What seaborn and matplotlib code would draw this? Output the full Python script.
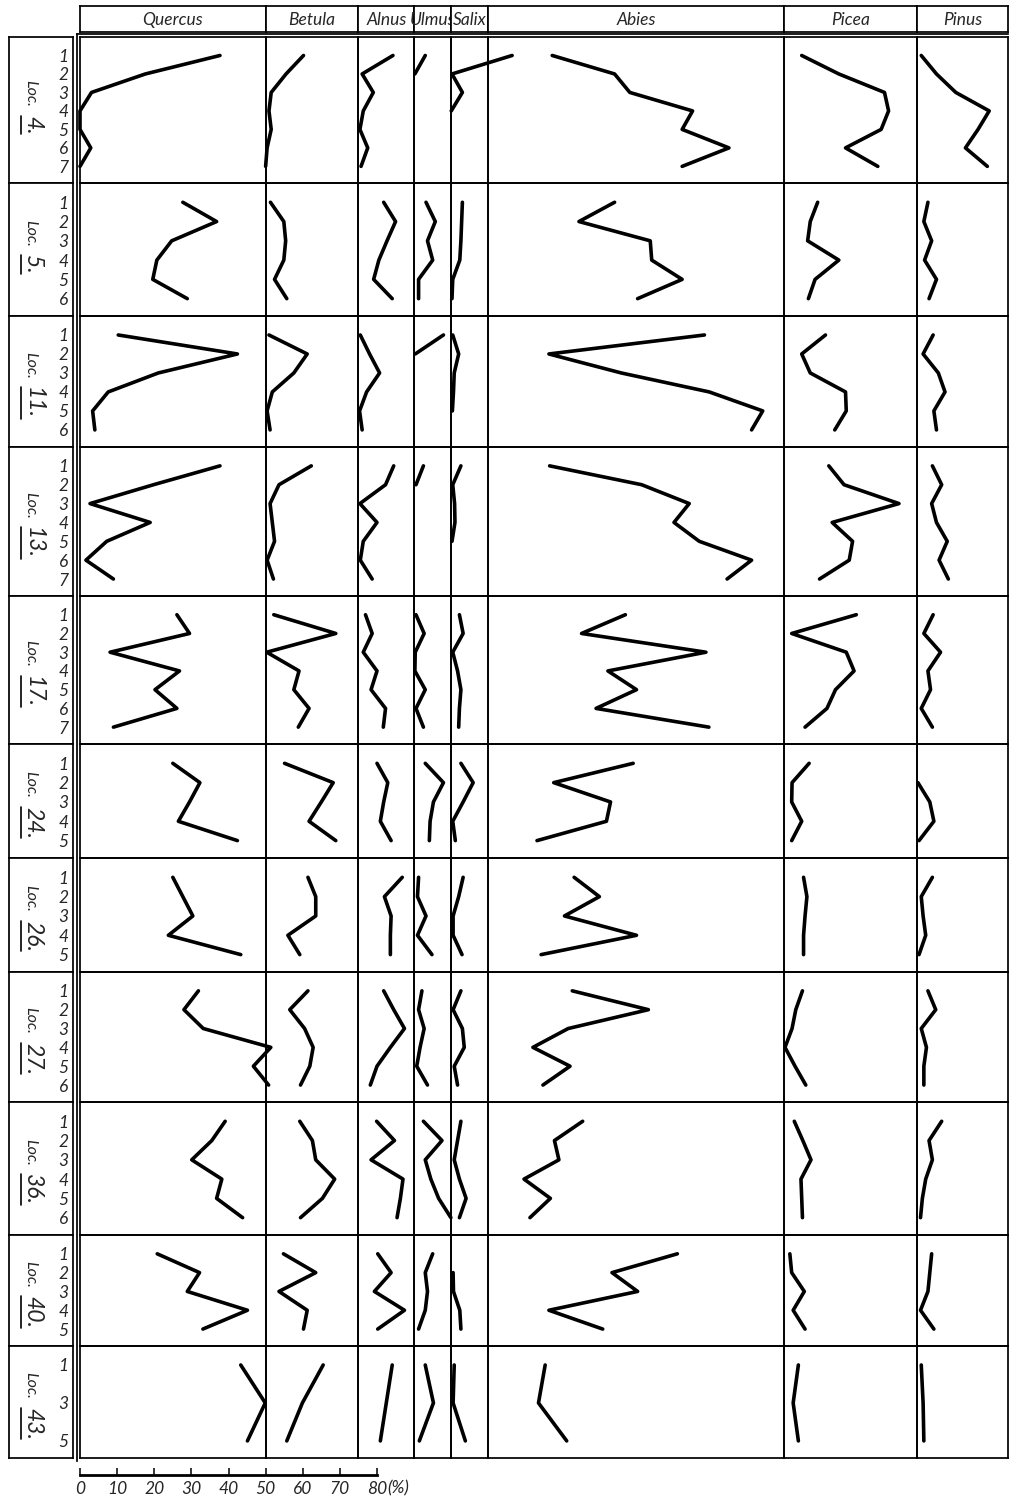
import numpy as np
import matplotlib
matplotlib.use('Agg')
import matplotlib.pyplot as plt
import seaborn as sns
from matplotlib.lines import Line2D

N = np.nan

# ---- data (percent of pollen sum) ----
taxa = ['Quercus', 'Betula', 'Alnus', 'Ulmus', 'Salix', 'Abies', 'Picea', 'Pinus']
localities = ['4', '5', '11', '13', '17', '24', '26', '27', '36', '40', '43']
samples = [
    [1, 2, 3, 4, 5, 6, 7],
    [1, 2, 3, 4, 5, 6],
    [1, 2, 3, 4, 5, 6],
    [1, 2, 3, 4, 5, 6, 7],
    [1, 2, 3, 4, 5, 6, 7],
    [1, 2, 3, 4, 5],
    [1, 2, 3, 4, 5],
    [1, 2, 3, 4, 5, 6],
    [1, 2, 3, 4, 5, 6],
    [1, 2, 3, 4, 5],
    [1, 3, 5],
]

quercus = [
    [37.7, 17.6, 3.1, 0, 0, 2.9, 0],
    [27.7, 36.8, 24.7, 20.7, 19.6, 28.9],
    [10.3, 42.4, 21.1, 7.6, 3.4, 4.0],
    [37.7, 19.8, 2.7, 18.9, 7.2, 1.6, 9.0],
    [26.1, 29.5, 8.1, 26.8, 20.2, 26.1, 9.0],
    [25.0, 32.3, 29.5, 26.5, 42.4],
    [25.0, 27.7, 30.4, 23.8, 43.3],
    [31.9, 28.0, 33.2, 51.4, 46.7, 50.8],
    [39.1, 35.5, 30.1, 38.2, 36.8, 43.8],
    [20.8, 32.2, 28.9, 45.1, 33.1],
    [43.3, 49.9, 45.1],
]
betula = [
    [10.2, 5.5, 1.5, 0.9, 1.5, 0.4, 0],
    [1.3, 4.9, 5.4, 4.9, 2.4, 5.7],
    [0.9, 11.2, 7.6, 1.8, 0.4, 1.2],
    [12.3, 3.6, 1.2, 1.8, 2.4, 0.4, 2.1],
    [2.2, 18.9, 0.3, 9.0, 7.6, 11.7, 8.8],
    [5.1, 18.2, 15.0, 11.7, 18.9],
    [11.4, 13.5, 13.5, 6.0, 9.2],
    [11.4, 6.5, 10.5, 12.8, 11.9, 9.4],
    [9.2, 12.6, 13.5, 18.6, 15.3, 9.4],
    [4.8, 13.5, 3.6, 11.2, 10.2],
    [15.5, 9.9, 5.7],
]
alnus = [
    [9.3, 1.0, 4.0, 1.3, 0.4, 2.5, 0.7],
    [6.8, 10.0, 7.7, 5.5, 4.1, 9.1],
    [0.5, 3.0, 5.7, 2.2, 0.3, 1.0],
    [9.5, 7.3, 0.4, 5.0, 1.3, 0.5, 3.7],
    [1.9, 3.7, 1.3, 5.0, 3.4, 7.3, 6.7],
    [5.0, 7.9, 6.8, 5.9, 8.8],
    [11.8, 7.0, 8.8, 8.6, 8.6],
    [6.8, 9.5, 12.4, 8.6, 5.0, 3.2],
    [4.9, 9.7, 3.4, 12.0, 11.3, 10.4],
    [5.2, 8.8, 4.3, 12.4, 5.2],
    [9.1, 7.5, 5.9],
]
ulmus = [
    [3.0, 0.2, N, N, N, N, N],
    [3.2, 5.7, 3.6, 5.0, 1.2, 1.2],
    [7.9, 0.3, N, N, N, N],
    [2.5, 0.5, N, N, N, N, N],
    [0.5, 2.7, 0.3, 0.2, 3.0, 0.5, 2.5],
    [3.0, 7.9, 5.2, 4.3, 4.1],
    [1.2, 0.9, 3.2, 0.9, 4.8],
    [2.1, 1.2, 2.7, 1.6, 0.7, 3.6],
    [2.5, 7.5, 3.0, 4.5, 6.6, 9.9],
    [5.0, 3.0, 3.6, 3.0, 1.2],
    [3.0, 5.2, 1.4],
]
salix = [
    [16.4, 0.2, 3.0, 0, N, N, N],
    [3.0, 2.8, 2.6, 2.3, 0.4, 0.2],
    [0.4, 2.0, 0.8, 0.6, 0.3, N],
    [2.6, 0.4, 0.9, 1.0, 0.2, N, N],
    [2.2, 3.2, 0.4, 1.7, 2.6, 2.2, 2.0],
    [2.6, 5.9, 3.2, 0.4, 1.1],
    [3.2, 2.0, 0.5, 0.5, 2.9],
    [2.6, 0.5, 3.0, 3.5, 0.8, 1.7],
    [2.6, 1.7, 0.8, 2.2, 4.0, 2.2],
    [N, 0.5, 0.6, 2.3, 2.6],
    [0.8, 0.5, 3.8],
]
abies = [
    [17.2, 34.0, 38.1, 55.0, 52.2, 64.8, 52.2],
    [34.0, 24.4, 43.6, 44.0, 52.2, 40.2],
    [58.2, 16.3, 35.8, 59.5, 73.9, 70.9],
    [16.5, 41.3, 54.1, 50.0, 56.8, 70.9, 64.3],
    [36.9, 25.1, 58.6, 32.2, 39.9, 29.0, 59.4],
    [39.0, 17.6, 32.9, 31.8, 13.1],
    [23.1, 29.9, 20.5, 39.9, 14.2],
    [22.6, 43.1, 21.5, 12.0, 22.0, 14.7],
    [25.4, 17.8, 19.0, 9.6, 16.7, 11.2],
    [50.9, 33.3, 40.2, 16.3, 30.8],
    [15.3, 13.5, 21.1],
]
picea = [
    [4.9, 14.9, 27.2, 28.3, 26.3, 16.7, 25.4],
    [9.2, 7.2, 6.5, 14.9, 8.5, 6.7],
    [11.3, 4.9, 7.2, 16.7, 16.9, 13.8],
    [12.2, 16.3, 31.1, 13.1, 18.6, 17.7, 9.7],
    [19.6, 2.2, 16.9, 19.0, 14.0, 11.7, 5.8],
    [6.9, 2.3, 2.2, 4.9, 2.2],
    [5.4, 6.3, 5.8, 5.4, 5.4],
    [5.1, 3.3, 2.3, 0.4, 3.1, 6.0],
    [2.9, 5.2, 7.4, 4.7, 4.9, 5.1],
    [1.7, 2.2, 5.6, 2.6, 5.8],
    [4.0, 2.6, 4.0],
]
pinus = [
    [1.1, 5.2, 10.4, 19.4, 16.4, 13.0, 18.9],
    [2.9, 1.8, 3.9, 2.0, 5.2, 3.2],
    [4.3, 1.6, 5.7, 7.5, 4.5, 5.2],
    [4.1, 6.6, 3.9, 5.2, 8.1, 5.9, 8.4],
    [4.3, 1.8, 6.3, 2.9, 3.6, 1.1, 4.1],
    [N, 0.2, 3.4, 4.5, 0.5],
    [4.1, 1.1, 1.6, 2.3, 0.5],
    [2.9, 5.0, 1.1, 2.5, 1.8, 1.8],
    [6.6, 3.2, 4.1, 2.3, 1.4, 0.9],
    [3.9, 3.4, 2.9, 0.9, 4.5],
    [1.1, 1.6, 1.8],
]
series = [quercus, betula, alnus, ulmus, salix, abies, picea, pinus]
scale_ticks = [0, 10, 20, 30, 40, 50, 60, 70, 80]

# ---- layout (pixels of the 1010 x 1500 page) ----
W, H = 1010, 1500
col_pct = [50, 25, 15, 10, 10, 79.5, 36, 24.5]   # column widths in % units
PX = 297 / 80                                     # pixels per percent
X0 = 80
row_edges = [37, 183, 316, 447, 596, 744, 858, 972, 1102, 1235, 1346, 1458]
LW_FRAME = 1.25

sns.set_style('white')
plt.rcParams['font.family'] = ['Lato', 'DejaVu Sans']
plt.rcParams['font.style'] = 'italic'

fig = plt.figure(figsize=(W / 100, H / 100), dpi=100)


def rect(x0, y0, x1, y1):
    return [x0 / W, 1 - y1 / H, (x1 - x0) / W, (y1 - y0) / H]


def frame(ax, sides=('left', 'right', 'top', 'bottom')):
    for name, sp in ax.spines.items():
        sp.set_visible(name in sides)
        sp.set_color('black')
        sp.set_linewidth(LW_FRAME)


col_left = X0 + np.concatenate([[0], np.cumsum(col_pct)[:-1]]) * PX

# outer double line on the left and top of the body
outer = fig.add_axes(rect(76.5, 34, 1008, 1461), zorder=-1)
outer.set_xticks([])
outer.set_yticks([])
frame(outer, ('left', 'top'))
outer.patch.set_alpha(0)

# header boxes
for j, name in enumerate(taxa):
    hx = fig.add_axes(rect(col_left[j], 6, col_left[j] + col_pct[j] * PX, 32))
    hx.set_xticks([])
    hx.set_yticks([])
    frame(hx)
    hx.text(0.5, 0.45, name, ha='center', va='center', fontsize=12.5,
            transform=hx.transAxes)

number_texts = []
for i, loc in enumerate(localities):
    top, bot = row_edges[i], row_edges[i + 1]
    s = samples[i]

    # locality label box
    lx = fig.add_axes(rect(9, top, 73, bot))
    lx.set_xticks([])
    lx.set_yticks([])
    frame(lx)
    lx.annotate('Loc.', xy=(0.27, 0.5), xycoords='axes fraction',
                xytext=(0, 2), textcoords='offset points', rotation=-90,
                rotation_mode='anchor', ha='right', va='baseline', fontsize=11.5)
    t = lx.annotate(loc + '.', xy=(0.27, 0.5), xycoords='axes fraction',
                    xytext=(0, -4), textcoords='offset points', rotation=-90,
                    rotation_mode='anchor', ha='left', va='baseline', fontsize=16.5)
    number_texts.append(t)

    for j, taxon in enumerate(taxa):
        ax = fig.add_axes(rect(col_left[j], top, col_left[j] + col_pct[j] * PX, bot))
        ax.patch.set_alpha(0)
        vals = np.array(series[j][i], dtype=float)
        ok = ~np.isnan(vals)
        sns.lineplot(x=vals[ok], y=np.array(s)[ok], ax=ax, sort=False, orient='y',
                     estimator=None, color='black', linewidth=2.6, clip_on=False)
        ax.set_xlim(0, col_pct[j])
        ax.set_ylim(s[-1] + 0.9, 0)
        ax.set_xticks([])
        ax.set_xlabel('')
        ax.set_ylabel('')
        frame(ax)
        if j == 0:
            ax.set_yticks(s)
            ax.set_yticklabels([str(v) for v in s], fontsize=12.5)
            ax.tick_params(axis='y', left=False, labelleft=True, pad=5)
        else:
            ax.set_yticks([])

# scale bar
sx = fig.add_axes(rect(X0, 1462, X0 + 80 * PX, 1475))
sx.set_xlim(0, 80)
sx.set_yticks([])
frame(sx, ('bottom',))
sx.spines['bottom'].set_linewidth(2.0)
sx.patch.set_alpha(0)
sx.set_xticks(scale_ticks)
sx.set_xticklabels([str(v) for v in scale_ticks], fontsize=12.5)
sx.tick_params(axis='x', bottom=True, direction='in', length=5, width=1.3, pad=4)
sx.annotate('(%)', xy=(80, 0), xycoords=('data', 'axes fraction'),
            xytext=(7.5, -4), textcoords='offset points', ha='left', va='top',
            fontsize=12.5)

# underline the locality numbers
fig.canvas.draw()
inv = fig.transFigure.inverted()
for t in number_texts:
    bb = t.get_window_extent()
    (x0, y0), (x1, y1) = inv.transform([[bb.x0 - 1, bb.y0], [bb.x1, bb.y1]])
    fig.add_artist(Line2D([x0, x0], [y0, y1], transform=fig.transFigure,
                          color='black', linewidth=1.2))

fig.savefig('out.png', dpi=100)
